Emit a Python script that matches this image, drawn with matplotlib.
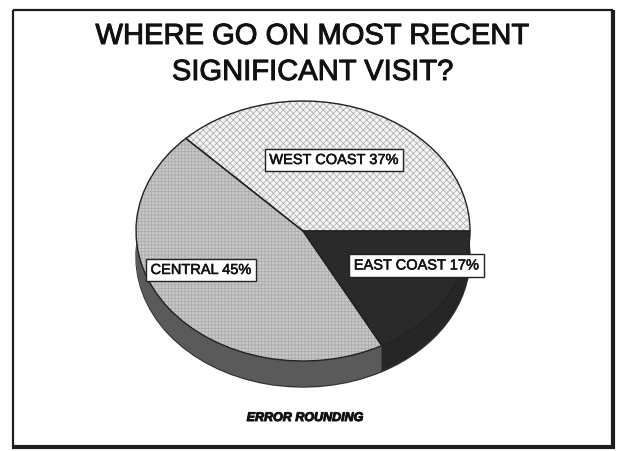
"""Pie chart: where visitors went on their most recent significant visit."""

import matplotlib

matplotlib.use("Agg")
import matplotlib.pyplot as plt
import matplotlib.patheffects as pe
import numpy as np
from matplotlib.lines import Line2D

regions = ["WEST COAST", "CENTRAL", "EAST COAST"]
shares = [37, 45, 17]

title_lines = ["WHERE GO ON MOST RECENT", "SIGNIFICANT VISIT?"]
footnote = "ERROR ROUNDING"

W, H = 618, 452
plt.rcParams["font.family"] = ["Liberation Sans", "DejaVu Sans"]
plt.rcParams["hatch.linewidth"] = 0.5


def fx(px):
    return px / W


def fy(py):
    return 1 - py / H


# slightly heavier strokes for the printed look
heavy = [pe.withStroke(linewidth=0.7, foreground="#111")]

fig = plt.figure(figsize=(W / 100, H / 100), dpi=100)
fig.patch.set_facecolor("white")

# slide frame, heavier on the right/bottom like a drop shadow
frame = dict(color="#1e1e1e", solid_capstyle="butt")
fig.add_artist(Line2D([fx(13), fx(613)], [fy(11), fy(11)], lw=1.6, **frame))
fig.add_artist(Line2D([fx(13), fx(13)], [fy(11), fy(448)], lw=1.6, **frame))
fig.add_artist(Line2D([fx(613), fx(613)], [fy(11), fy(449)], lw=3.0, **frame))
fig.add_artist(Line2D([fx(12), fx(615)], [fy(448), fy(448)], lw=3.0, **frame))

for line, py in zip(title_lines, [37, 73]):
    fig.text(fx(312), fy(py), line, ha="center", va="center", fontsize=21,
             color="#111", path_effects=heavy)
fig.text(fx(305), fy(419), footnote, ha="center", va="center", fontsize=9,
         fontweight="bold", fontstyle="italic", color="#111", path_effects=heavy)

# ellipse: rx 167px, ry 130px, 26px thick
depth = 0.2
ax = fig.add_axes([fx(136), fy(388), 334 / W, 286 / H])

side_colors = ["#8a8a8a", "#5a5a5a", "#262626"]
ax.pie(shares, colors=side_colors, startangle=0, center=(0, -depth),
       wedgeprops=dict(edgecolor="#333", linewidth=1.0))
for off in np.linspace(depth, 0, 40)[1:-1]:
    ax.pie(shares, colors=side_colors, startangle=0, center=(0, -off),
           wedgeprops=dict(linewidth=0))

top_colors = ["#f4f4f4", "#c8c8c8", "#2a2a2a"]
ax.pie(shares, colors=top_colors, startangle=0, hatch=["xxxxx", "+++++", ""],
       wedgeprops=dict(edgecolor="#a8a8a8", linewidth=0))
ax.pie(shares, colors=["none"] * 3, startangle=0,
       wedgeprops=dict(edgecolor="#222", linewidth=1.0))

label_pos = [(0.186, 0.546), (-0.61, -0.30), (0.68, -0.265)]
for name, val, (lx, ly) in zip(regions, shares, label_pos):
    ax.text(lx, ly, f"{name} {val}%", ha="center", va="center", fontsize=10.5, color="#111",
            path_effects=[pe.withStroke(linewidth=0.4, foreground="#111")],
            bbox=dict(boxstyle="square,pad=0.3", fc="white", ec="#222", lw=1.0))

ax.set_aspect("auto")
ax.set_xlim(-1, 1)
ax.set_ylim(-1 - depth, 1)
ax.axis("off")

fig.savefig("out.png", dpi=100)
